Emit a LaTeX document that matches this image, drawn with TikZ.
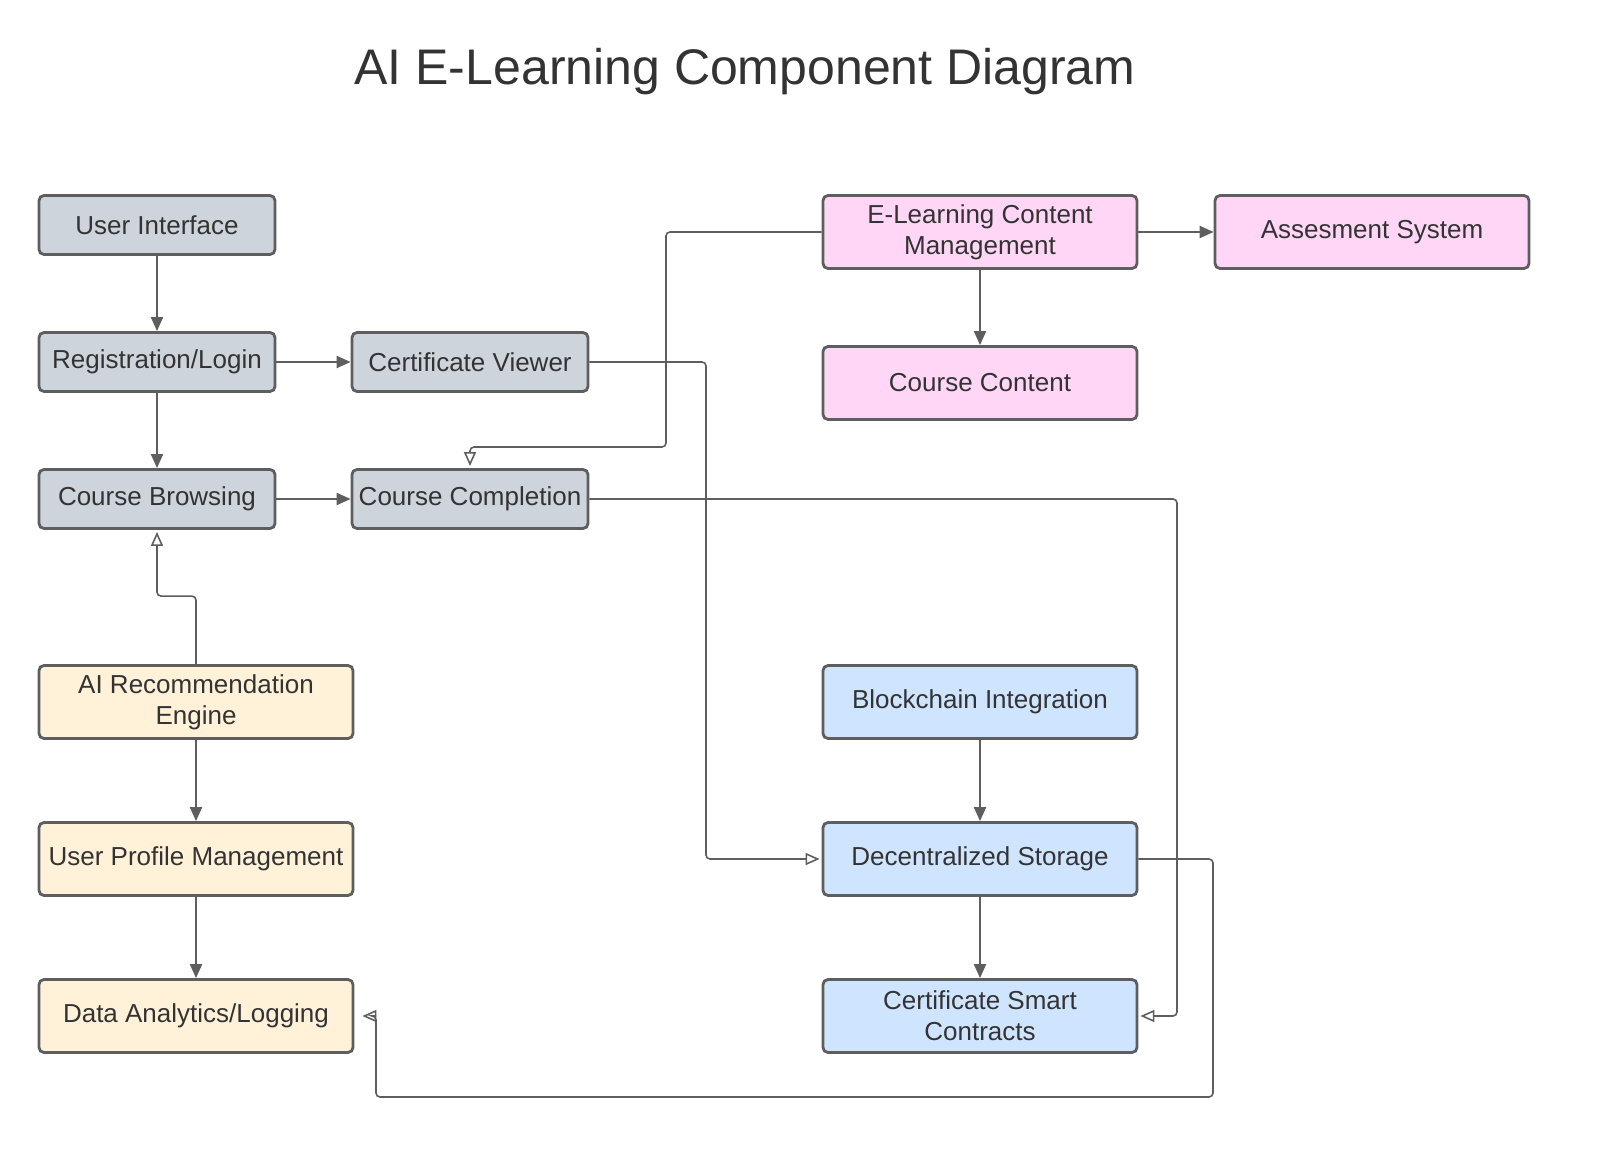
\documentclass[tikz,border=0pt]{standalone}
\usepackage{fontspec}
\setmainfont{Liberation Sans}
\usetikzlibrary{arrows.meta}

\definecolor{edgegrey}{HTML}{5E5E5E}
\definecolor{textgrey}{HTML}{333333}
\definecolor{uigrey}{HTML}{CED4DB}
\definecolor{contentpink}{HTML}{FFD6F5}
\definecolor{aiyellow}{HTML}{FFF2D9}
\definecolor{chainblue}{HTML}{CFE4FF}

\tikzset{
  comp/.style={draw=edgegrey, line width=1.4pt, rounded corners=2.5pt, align=center,
    text=textgrey, font=\fontsize{13}{15.5}\selectfont, inner sep=1pt},
  smallbox/.style={comp, minimum width=118pt, minimum height=29.5pt},
  widebox/.style={comp, minimum width=157pt, minimum height=36.5pt},
  flow/.style={draw=edgegrey, line width=1pt, -{Triangle[length=7pt,width=6pt]}},
  link/.style={draw=edgegrey, line width=0.8pt, rounded corners=2pt,
    -{Triangle[open,length=7pt,width=6pt]}, shorten >=1pt},
}

\begin{document}
\begin{tikzpicture}[x=0.5pt, y=-0.5pt]
	\useasboundingbox (0,0) rectangle (1600,1160);

	\node[font=\fontsize{25}{29}\selectfont, text=textgrey] (title) at (745,72) {AI E-Learning Component Diagram};

	% user side
	\node[smallbox, fill=uigrey] (ui) at (157,225) {User Interface};
	\node[smallbox, fill=uigrey] (reg) at (157,362) {Registration/Login};
	\node[smallbox, fill=uigrey] (cb) at (157,499) {Course Browsing};
	\node[smallbox, fill=uigrey] (cv) at (470,362) {Certificate Viewer};
	\node[smallbox, fill=uigrey] (cc) at (470,499) {Course Completion};

	% content
	\node[widebox, fill=contentpink] (ecm) at (980,232) {E-Learning Content\\Management};
	\node[widebox, fill=contentpink] (as) at (1372,232) {Assesment System};
	\node[widebox, fill=contentpink] (con) at (980,383) {Course Content};

	% ai
	\node[widebox, fill=aiyellow] (ai) at (196,702) {AI Recommendation\\Engine};
	\node[widebox, fill=aiyellow] (upm) at (196,859) {User Profile Management};
	\node[widebox, fill=aiyellow] (da) at (196,1016) {Data Analytics/Logging};

	% blockchain
	\node[widebox, fill=chainblue] (bi) at (980,702) {Blockchain Integration};
	\node[widebox, fill=chainblue] (ds) at (980,859) {Decentralized Storage};
	\node[widebox, fill=chainblue] (csc) at (980,1016) {Certificate Smart\\Contracts};

	\draw[flow] (ui) -- (reg);
	\draw[flow] (reg) -- (cb);
	\draw[flow] (reg) -- (cv);
	\draw[flow] (cb) -- (cc);
	\draw[flow] (ai) -- (upm);
	\draw[flow] (upm) -- (da);
	\draw[flow] (ecm) -- (as);
	\draw[flow] (ecm) -- (con);
	\draw[flow] (bi) -- (ds);
	\draw[flow] (ds) -- (csc);

	\draw[link] (ai.north) -- ++(0,-68) -| (cb.south);
	\draw[link] (ecm.west) -| (666,447) -| (cc.north);
	\draw[link] (cv.east) -| (706,859) -- (ds.west);
	\draw[link] (cc.east) -| (1177,1016) -- (csc.east);
	\draw[link, shorten >=4pt] (ds.east) -| (1213,1097) -| (376,1016) -- (da.east);
\end{tikzpicture}
\end{document}
